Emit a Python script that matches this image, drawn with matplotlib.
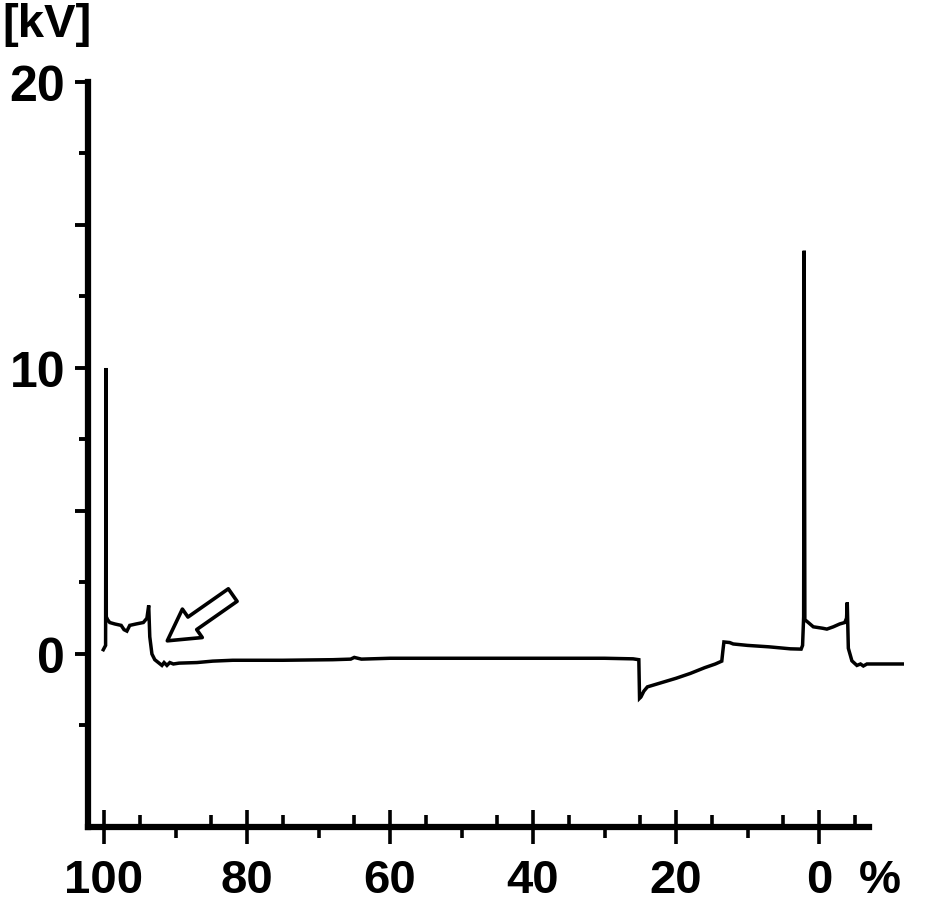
import numpy as np
import matplotlib.pyplot as plt

# trace: position in % and voltage in kV
pct = [100.1, 99.78, 99.72, 99.68, 99.5, 99.2, 98.5, 97.6, 97.2, 96.8, 96.4,
       95.5, 94.5, 94.0, 93.75, 93.6, 93.3, 92.9, 92.4, 91.9, 91.6, 91.2,
       90.8, 90.3, 89.5, 87.0, 84.8, 82.0, 75.0, 68.0, 65.5, 65.0, 64.0,
       60.0, 50.0, 40.0, 30.0, 26.0, 25.2, 25.1, 24.9, 24.5, 24.0, 22.0,
       20.0, 18.0, 16.0, 14.5, 13.6, 13.45, 13.3, 12.5, 12.0, 10.0, 7.0,
       4.0, 2.5, 2.3, 2.15, 2.07, 1.98, 1.5, 0.8, -0.5, -1.1, -2.0, -2.9,
       -3.6, -3.85, -3.95, -4.1, -4.6, -5.3, -5.8, -6.2, -6.7, -8.0, -11.7]
kv = [0.15, 0.3, 10.0, 1.3, 1.2, 1.1, 1.05, 1.0, 0.85, 0.8, 1.0,
      1.05, 1.1, 1.25, 1.7, 0.6, 0.0, -0.2, -0.3, -0.4, -0.3, -0.4,
      -0.3, -0.35, -0.32, -0.3, -0.25, -0.22, -0.22, -0.2, -0.18, -0.12, -0.18,
      -0.15, -0.15, -0.15, -0.15, -0.17, -0.2, -1.55, -1.5, -1.3, -1.15, -1.0,
      -0.85, -0.68, -0.48, -0.35, -0.25, 0.1, 0.42, 0.4, 0.35, 0.3, 0.25,
      0.18, 0.17, 0.3, 1.3, 14.1, 1.2, 1.1, 0.95, 0.9, 0.87, 0.95, 1.05,
      1.1, 1.25, 1.8, 0.2, -0.24, -0.4, -0.35, -0.42, -0.35, -0.35, -0.35]

x_ticks = [100, 80, 60, 40, 20, 0]
x_labels = ['100', '80', '60', '40', '20', '0']
y_ticks = [0, 5, 10, 15, 20]
y_labels = ['0', '', '10', '', '20']

# arrow pointing at the step near 93 %
arrow_tip = (91.15, 0.46)
arrow_tail = (82.0, 2.06)

fnt = 'Liberation Sans'

fig = plt.figure(figsize=(9.28, 9.04), dpi=100)
ax = fig.add_axes([88 / 928, 76 / 904, 816 / 928, 745 / 904])

ax.plot(pct, kv, color='black', lw=2.5, solid_joinstyle='miter')

ax.set_xlim(102.24, 102.24 - 816 / 7.15)
ax.set_ylim(-6.05, 20)

for s in ['top', 'right']:
    ax.spines[s].set_visible(False)
for s in ['left', 'bottom']:
    ax.spines[s].set_linewidth(4.5)
    ax.spines[s].set_capstyle('projecting')
ax.spines['bottom'].set_bounds(102.24, -7.0)

ax.set_xticks(x_ticks)
ax.set_xticklabels(x_labels, fontfamily=fnt, fontweight='bold', fontsize=34)
ax.set_xticks(np.arange(90, 0, -20), minor=True)
ax.tick_params(axis='x', which='major', direction='inout', length=25, width=2.6, pad=10)
ax.tick_params(axis='x', which='minor', direction='out', length=8, width=2.6)
# short inward ticks at the odd 5s
ax.vlines(np.arange(95, -6, -10), 0, 0.0155, transform=ax.get_xaxis_transform(),
          color='black', lw=2.6, clip_on=False)

ax.set_yticks(y_ticks)
ax.set_yticklabels(y_labels, fontfamily=fnt, fontweight='bold', fontsize=36)
ax.set_yticks(np.arange(-2.5, 20, 5), minor=True)
ax.tick_params(axis='y', which='major', direction='out', length=9.5, width=2.8, pad=7)
ax.tick_params(axis='y', which='minor', direction='out', length=6.5, width=2.8)

ax.annotate('%', xy=(-8.5, 0), xycoords=ax.get_xaxis_transform(),
            xytext=(0, -22.5), textcoords='offset points', ha='center', va='top',
            fontfamily=fnt, fontweight='bold', fontsize=34)

fig.text(0.003, 0.997, '[kV]', ha='left', va='top',
         fontfamily=fnt, fontweight='bold', fontsize=34)

ax.annotate('', xy=arrow_tip, xytext=arrow_tail,
            arrowprops=dict(arrowstyle='simple,head_length=1.1,head_width=1.25,tail_width=0.55',
                            mutation_scale=20, fc='white', ec='black', lw=2.6,
                            shrinkA=0, shrinkB=0))

fig.savefig('out.png', dpi=100)
